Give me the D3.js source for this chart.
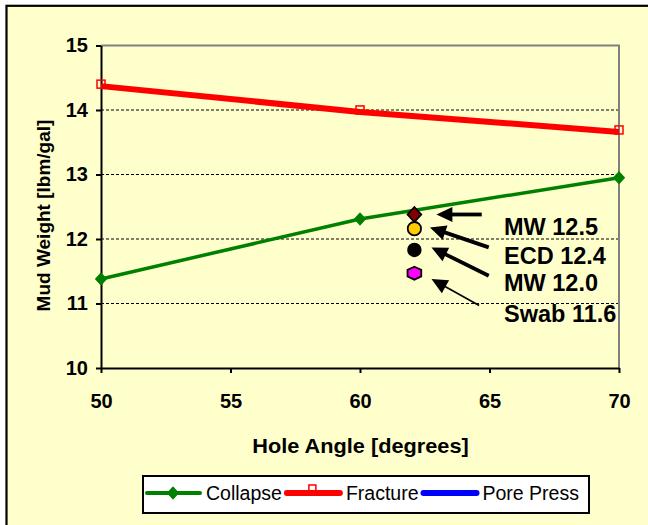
<!DOCTYPE html>
<meta charset="utf-8">
<style>
    body { margin: 0; background: #fff; }
    text { font-family: "Liberation Sans", Arial, sans-serif; }
    .grid line { stroke: #000; stroke-width: 1; stroke-dasharray: 3,2; }
    .note { font-weight: bold; font-size: 23.5px; fill: #000; }
</style>
<svg width="648" height="525"></svg>
<script src="https://cdn.jsdelivr.net/npm/d3@7"></script>
<script>

    // hole angle (deg) and mud weight (lbm/gal)
    var angles = [50, 60, 70];
    var collapse = [11.38, 12.31, 12.95];
    var fracture = [14.37, 13.97, 13.66];
    var porePress = [];

    var xTicks = [50, 55, 60, 65, 70];
    var yTicks = [10, 11, 12, 13, 14, 15];

    // single weights plotted at ~62 deg
    var pointAngle = 62.1;
    var pointNames = ["MW 12.5", "ECD 12.4", "MW 12.0", "Swab 11.6"];
    var pointValues = [12.38, 12.16, 11.83, 11.47];
    var pointColors = ["#800000", "#FFCC00", "#000000", "#FF00FF"];

    // annotation arrows [tailAngle, tailWeight, headAngle, headWeight]
    var arrows = [
        [64.7, 12.38, 62.95, 12.38],
        [64.97, 11.87, 62.7, 12.18],
        [64.97, 11.43, 62.76, 11.87],
        [64.6, 10.97, 62.76, 11.38]
    ];
    var noteAngle = 65.56;
    var noteWeights = [12.06, 11.61, 11.19, 10.72];

    var svg = d3.select("svg"),
        plot = {left: 101, right: 619, top: 45.5, bottom: 368};

    var x = d3.scaleLinear().domain([50, 70]).range([plot.left, plot.right]),
        y = d3.scaleLinear().domain([10, 15]).range([plot.bottom, plot.top]);

    // outer chart area
    svg.append("rect")
        .attr("x", 6.5).attr("y", 5.8)
        .attr("width", 700).attr("height", 600)
        .attr("fill", "#FFFFCC")
        .attr("stroke", "#000")
        .attr("stroke-width", 2.2);

    // gridlines
    svg.append("g")
        .attr("class", "grid")
        .selectAll("line")
        .data(yTicks.filter(function(d) { return d > 10 && d < 15; }))
        .enter().append("line")
        .attr("x1", plot.left).attr("x2", plot.right)
        .attr("y1", function(d) { return y(d); })
        .attr("y2", function(d) { return y(d); });

    // grey plot border (top and right)
    svg.append("path")
        .attr("d", "M" + plot.left + "," + plot.top + "H" + plot.right + "V" + plot.bottom)
        .attr("fill", "none")
        .attr("stroke", "#808080")
        .attr("stroke-width", 2);

    var yAxis = svg.append("g")
        .attr("transform", "translate(" + plot.left + ",0)")
        .call(d3.axisLeft(y).tickValues(yTicks).tickFormat(d3.format("d"))
            .tickSize(5).tickSizeOuter(0).tickPadding(8));

    var xAxis = svg.append("g")
        .attr("transform", "translate(0," + plot.bottom + ")")
        .call(d3.axisBottom(x).tickValues(xTicks).tickFormat(d3.format("d"))
            .tickSize(5).tickSizeOuter(0).tickPadding(21));

    [xAxis, yAxis].forEach(function(a) {
        a.select(".domain").attr("stroke", "#000").attr("stroke-width", 2);
        a.selectAll(".tick line").attr("stroke", "#000").attr("stroke-width", 2);
        a.selectAll(".tick text")
            .attr("fill", "#000")
            .style("font-family", "'Liberation Sans', Arial, sans-serif")
            .style("font-weight", "bold")
            .style("font-size", "20px");
    });

    // axis titles
    svg.append("text")
        .attr("transform", "translate(360.5,452.5) scale(1.06,1)")
        .attr("text-anchor", "middle")
        .style("font-weight", "bold").style("font-size", "20.5px")
        .text("Hole Angle [degrees]");

    svg.append("text")
        .attr("transform", "translate(49.5,215.5) rotate(-90)")
        .attr("text-anchor", "middle")
        .style("font-weight", "bold").style("font-size", "19px")
        .text("Mud Weight [lbm/gal]");

    var line = d3.line()
        .x(function(d) { return x(d[0]); })
        .y(function(d) { return y(d[1]); });

    // a rhombus a little taller than wide, like the spreadsheet marker
    var rhombus = {
        draw: function(context, size) {
            var h = Math.sqrt(size) * 0.75, w = h * 0.92;
            context.moveTo(0, -h);
            context.lineTo(w, 0);
            context.lineTo(0, h);
            context.lineTo(-w, 0);
            context.closePath();
        }
    };
    var diamond = d3.symbol().type(rhombus).size(80);

    // fracture: hollow squares under a thick red line
    var fracData = d3.zip(angles, fracture);
    svg.append("g").selectAll("rect")
        .data(fracData)
        .enter().append("rect")
        .attr("x", function(d) { return x(d[0]) - 4; })
        .attr("y", function(d) { return y(d[1]) - 6; })
        .attr("width", 8).attr("height", 8)
        .attr("fill", "none")
        .attr("stroke", "#FF0000")
        .attr("stroke-width", 1.5);

    svg.append("path")
        .datum(fracData)
        .attr("fill", "none")
        .attr("stroke", "#FF0000")
        .attr("stroke-width", 6)
        .attr("d", line);

    // collapse: green line with diamonds
    var colData = d3.zip(angles, collapse);
    svg.append("path")
        .datum(colData)
        .attr("fill", "none")
        .attr("stroke", "#008000")
        .attr("stroke-width", 3.5)
        .attr("d", line);

    svg.append("g").selectAll("path")
        .data(colData)
        .enter().append("path")
        .attr("transform", function(d) { return "translate(" + x(d[0]) + "," + y(d[1]) + ")"; })
        .attr("fill", "#008000")
        .attr("d", diamond);

    svg.append("path")
        .datum(d3.zip(angles.slice(0, porePress.length), porePress))
        .attr("fill", "none")
        .attr("stroke", "#0000FF")
        .attr("stroke-width", 6)
        .attr("d", line);

    // weight points
    var hexagon = {
        draw: function(context, size) {
            var r = Math.sqrt(size / 2.6);
            for (var i = 0; i < 6; i++) {
                var a = Math.PI / 3 * i - Math.PI / 2;
                var px = r * 1.1 * Math.cos(a), py = r * 0.9 * Math.sin(a);
                if (i === 0) context.moveTo(px, py); else context.lineTo(px, py);
            }
            context.closePath();
        }
    };
    var pointShapes = [
        d3.symbol().type(rhombus).size(100),
        d3.symbol().type(d3.symbolCircle).size(140),
        d3.symbol().type(d3.symbolCircle).size(125),
        d3.symbol().type(hexagon).size(135)
    ];

    svg.append("g").selectAll("path")
        .data(pointValues)
        .enter().append("path")
        .attr("transform", function(d) { return "translate(" + x(pointAngle) + "," + y(d) + ")"; })
        .attr("fill", function(d, i) { return pointColors[i]; })
        .attr("stroke", "#000")
        .attr("stroke-width", 1.8)
        .attr("d", function(d, i) { return pointShapes[i](); });

    // arrows
    var arrowG = svg.append("g");
    arrows.forEach(function(a, i) {
        var x1 = x(a[0]), y1 = y(a[1]), x2 = x(a[2]), y2 = y(a[3]);
        var dx = x2 - x1, dy = y2 - y1, len = Math.sqrt(dx * dx + dy * dy);
        var ux = dx / len, uy = dy / len, headLen = 16, headW = 7.5;
        var bx = x2 - ux * headLen, by = y2 - uy * headLen;
        arrowG.append("line")
            .attr("x1", x1).attr("y1", y1)
            .attr("x2", bx + ux * 2).attr("y2", by + uy * 2)
            .attr("stroke", "#000")
            .attr("stroke-width", i === 3 ? 1.6 : 3.8);
        arrowG.append("path")
            .attr("d", "M" + x2 + "," + y2 +
                "L" + (bx - uy * headW) + "," + (by + ux * headW) +
                "L" + (bx + uy * headW) + "," + (by - ux * headW) + "Z")
            .attr("fill", "#000");
    });

    svg.append("g").selectAll("text")
        .data(pointNames)
        .enter().append("text")
        .attr("class", "note")
        .attr("x", x(noteAngle))
        .attr("y", function(d, i) { return y(noteWeights[i]); })
        .text(function(d) { return d; });

    // legend
    var series = [
        {name: "Collapse", color: "#008000", width: 4, mark: "diamond"},
        {name: "Fracture", color: "#FF0000", width: 6, mark: "square"},
        {name: "Pore Press", color: "#0000FF", width: 6, mark: null}
    ];

    var legend = svg.append("g");
    legend.append("rect")
        .attr("x", 143).attr("y", 476)
        .attr("width", 446).attr("height", 37)
        .attr("fill", "#fff")
        .attr("stroke", "#000")
        .attr("stroke-width", 2);

    var lx = 147, ly = 493;
    series.forEach(function(s) {
        var item = legend.append("g");
        if (s.mark === "square") {
            item.append("rect")
                .attr("x", lx + 22).attr("y", ly - 8)
                .attr("width", 7).attr("height", 7)
                .attr("fill", "none").attr("stroke", s.color).attr("stroke-width", 1.5);
        }
        item.append("line")
            .attr("x1", lx).attr("x2", lx + 53)
            .attr("y1", ly).attr("y2", ly)
            .attr("stroke", s.color)
            .attr("stroke-width", s.width)
            .attr("stroke-linecap", "round");
        if (s.mark === "diamond") {
            item.append("path")
                .attr("transform", "translate(" + (lx + 26) + "," + ly + ")")
                .attr("fill", s.color)
                .attr("d", diamond);
        }
        var t = item.append("text")
            .attr("x", lx + 59).attr("y", ly)
            .attr("dy", "0.36em")
            .style("font-size", "19.5px")
            .text(s.name);
        lx += 59 + t.node().getComputedTextLength() + 5;
    });

</script>
